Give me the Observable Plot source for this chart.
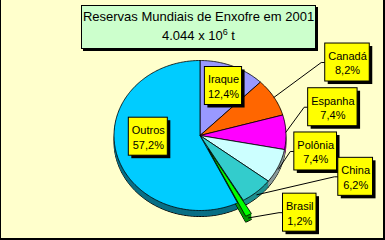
<!DOCTYPE html>
<html><head><meta charset="utf-8">
<script src="https://cdn.jsdelivr.net/npm/d3@7"></script>
<script src="https://cdn.jsdelivr.net/npm/@observablehq/plot@0.6"></script>
<style>
html,body{margin:0;padding:0;background:#fff;}
#wrap{position:relative;width:385px;height:240px;overflow:hidden;font-family:"Liberation Sans",Arial,sans-serif;}
#title{position:absolute;left:81px;top:5px;width:235px;height:44px;box-sizing:border-box;background:#CCFFCC;border:1px solid #000;box-shadow:2px 2px 0 #000;text-align:center;font-size:13px;line-height:19px;padding-top:1px;color:#000;}
#title sup{font-size:9px;line-height:0;vertical-align:5px;}
#frame{position:absolute;left:0;top:0;width:385px;height:240px;box-sizing:border-box;border-left:1px solid #000;border-right:2px solid #000;border-bottom:2px solid #000;pointer-events:none;}
svg{display:block;}
</style>
</head><body>
<div id="wrap"><div id="chart"></div>
<div id="title">Reservas Mundiais de Enxofre em 2001<br>4.044 x 10<sup>6</sup> t</div>
<div id="frame"></div></div>
<script>
// ---- data ----
const countries = ["Iraque", "Canadá", "Espanha", "Polônia", "China", "Brasil", "Outros"];
const shares = [12.4, 8.2, 7.4, 7.4, 6.2, 1.2, 57.2];
const explodedSlices = ["Brasil"];

// ---- styles ----
const topColors = ["#9999FF", "#FF6600", "#FF00FF", "#CCFFFF", "#33CCCC", "#00FF00", "#00CCFF"];
const sideColors = ["#6666AA", "#B34700", "#B300B3", "#8A9A9A", "#1F8F8F", "#009900", "#0A6F85"];

// ---- layout (label box centres, in pie units) ----
const labelCenters = [[0.273, 0.66], [1.715, 0.973], [1.545, 0.377], [1.345, -0.213], [1.81, -0.551], [1.16, -1.029], [-0.601, -0.016]];
const leaderFor = ["Canadá", "Espanha", "Polônia", "China", "Brasil"];

const cx = 199.5, cy = 135, rx = 86, ry = 75;
const depthPx = 6, explodeR = 0.2;
const px = v => v / rx, py = v => v / ry;
const fontSize = 11, lineH = 14.5, boxH = 38, pad = 6;

const total = d3.sum(shares);
const slices = [];
let acc = 0;
countries.forEach((c, i) => {
  const a0 = acc / total * 2 * Math.PI;
  acc += shares[i];
  const a1 = acc / total * 2 * Math.PI;
  const am = (a0 + a1) / 2;
  const e = explodedSlices.includes(c) ? explodeR : 0;
  slices.push({c, i, a0, a1, am, ox: e * Math.sin(am), oy: e * Math.cos(am)});
});

function poly(s, dy) {
  const pts = [{x: s.ox, y: s.oy + dy}];
  const n = Math.max(2, Math.ceil((s.a1 - s.a0) / (Math.PI / 180)));
  for (let k = 0; k <= n; k++) {
    const t = s.a0 + (s.a1 - s.a0) * k / n;
    pts.push({x: s.ox + Math.sin(t), y: s.oy + Math.cos(t) + dy});
  }
  pts.push({x: s.ox, y: s.oy + dy});
  return pts;
}

const marks = [];
const depth = py(depthPx);
// 3D bodies, back to front
const order = slices.slice().sort((a, b) => Math.cos(b.am) - Math.cos(a.am));
for (const s of order) {
  marks.push(Plot.line(poly(s, -depth), {x: "x", y: "y", fill: sideColors[s.i], stroke: "#000", strokeWidth: 1}));
  const steps = 12;
  for (let k = steps - 1; k >= 1; k--) {
    marks.push(Plot.line(poly(s, -depth * k / steps), {x: "x", y: "y", fill: sideColors[s.i], stroke: "none"}));
  }
}
// top faces
for (const s of slices) {
  marks.push(Plot.line(poly(s, 0), {x: "x", y: "y", fill: topColors[s.i], stroke: "#000", strokeWidth: 0.8}));
}

// labels
const ctx = document.createElement("canvas").getContext("2d");
ctx.font = `${fontSize}px "Liberation Sans", Arial, sans-serif`;
const labels = slices.map(s => {
  const l1 = s.c, l2 = shares[s.i].toFixed(1).replace(".", ",") + "%";
  const w = Math.max(ctx.measureText(l1).width, ctx.measureText(l2).width) + pad;
  const [lx, ly] = labelCenters[s.i];
  return {
    name: s.c, text: l1 + "\n" + l2, x: lx, y: ly,
    x1: lx - px(w / 2), x2: lx + px(w / 2), y1: ly - py(boxH / 2), y2: ly + py(boxH / 2), s
  };
});

// leader lines
for (const L of labels.filter(d => leaderFor.includes(d.name))) {
  const s = L.s;
  const pts = [
    {x: s.ox + Math.sin(s.am), y: s.oy + Math.cos(s.am) - (Math.cos(s.am) < 0 ? depth * 0.5 : 0)},
    {x: L.x1 - px(4), y: L.y},
    {x: L.x1, y: L.y}
  ];
  marks.push(Plot.line(pts, {x: "x", y: "y", stroke: "#000", strokeWidth: 1}));
}

const sh = 3;
marks.push(Plot.rect(labels, {x1: d => d.x1 + px(sh), x2: d => d.x2 + px(sh), y1: d => d.y1 - py(sh), y2: d => d.y2 - py(sh), fill: "#000"}));
marks.push(Plot.rect(labels, {x1: "x1", x2: "x2", y1: "y1", y2: "y2", fill: "#FFFF00", stroke: "#000", strokeWidth: 1}));
marks.push(Plot.text(labels, {x: "x", y: "y", text: "text", fill: "#000", lineAnchor: "middle", lineHeight: lineH / fontSize, fontSize: fontSize}));

const chart = Plot.plot({
  width: 385, height: 240, margin: 0,
  x: {domain: [-1, 1], range: [cx - rx, cx + rx], axis: null},
  y: {domain: [-1, 1], range: [cy + ry, cy - ry], axis: null},
  style: {background: "#FFFFCC", fontFamily: '"Liberation Sans", Arial, sans-serif', fontSize: "11px", color: "#000"},
  marks
});
document.getElementById("chart").appendChild(chart);
</script>
</body></html>
